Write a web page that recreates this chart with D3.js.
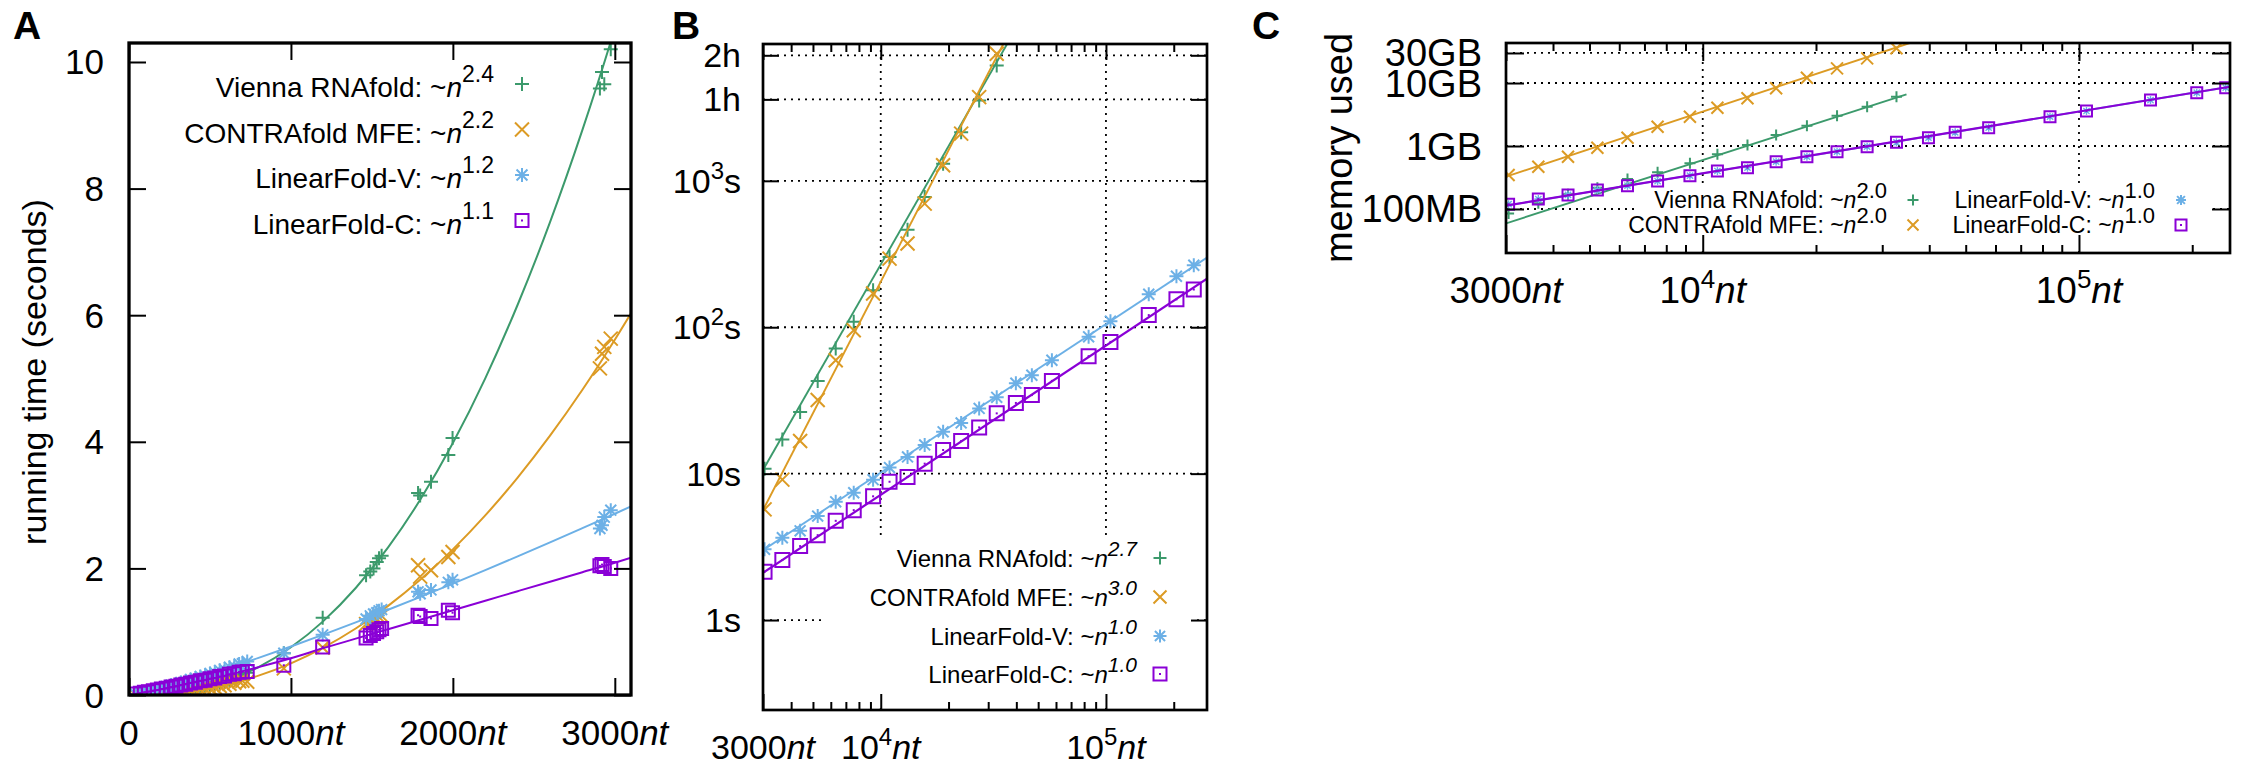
<!DOCTYPE html>
<html>
<head>
<meta charset="utf-8">
<title>LinearFold: running time and memory</title>
<script src="https://d3js.org/d3.v7.min.js"></script>
<style>
  body { margin: 0; background: #fff; }
  text { font-family: "Liberation Sans", Arial, Helvetica, sans-serif; fill: #000; }
</style>
</head>
<body>
<script>
// ---------- data ----------
var seriesNames = ["Vienna RNAfold", "CONTRAfold MFE", "LinearFold-V", "LinearFold-C"];
var seriesColors = ["#3c9a6c", "#dc9b24", "#6cb0e6", "#8a00d6"];
var seriesMarks = ["plus", "cross", "star", "square"];

// A: running time (s) vs sequence length (nt), linear axes
var aLen = [40, 70, 95, 120, 150, 175, 200, 230, 260, 290, 320, 350, 380, 410, 440, 470, 500, 530, 560, 590, 620, 650, 680, 700, 730,
            956, 1196, 1464, 1490, 1510, 1530, 1544, 1560, 1785, 1798, 1865, 1972, 1998, 2908, 2921, 2935, 2975];
var aVienna = [0.0003, 0.0013, 0.003, 0.005, 0.008, 0.012, 0.017, 0.021, 0.031, 0.038, 0.05, 0.063, 0.072, 0.091, 0.103, 0.126, 0.14, 0.168, 0.185, 0.218, 0.236, 0.274, 0.295, 0.326, 0.35,
               0.66, 1.22, 1.89, 1.95, 2.0, 2.1, 2.16, 2.2, 3.19, 3.15, 3.37, 3.79, 4.06, 9.58, 9.84, 9.65, 10.2];
var aContra = [0.0004, 0.0014, 0.003, 0.005, 0.008, 0.011, 0.015, 0.02, 0.027, 0.032, 0.042, 0.049, 0.061, 0.069, 0.084, 0.094, 0.112, 0.122, 0.143, 0.155, 0.179, 0.192, 0.218, 0.226, 0.21,
               0.42, 0.75, 1.12, 1.15, 1.18, 1.2, 1.23, 1.25, 2.05, 1.87, 1.97, 2.18, 2.26, 5.16, 5.39, 5.5, 5.63];
var aLinV = [0.016, 0.032, 0.046, 0.06, 0.08, 0.094, 0.113, 0.13, 0.155, 0.172, 0.199, 0.215, 0.245, 0.26, 0.292, 0.307, 0.34, 0.355, 0.39, 0.403, 0.44, 0.452, 0.49, 0.495, 0.53,
             0.66, 0.95, 1.2, 1.25, 1.28, 1.3, 1.33, 1.35, 1.63, 1.6, 1.66, 1.78, 1.82, 2.63, 2.68, 2.81, 2.92];
var aLinC = [0.016, 0.029, 0.042, 0.052, 0.069, 0.079, 0.094, 0.106, 0.126, 0.137, 0.158, 0.169, 0.191, 0.201, 0.224, 0.234, 0.258, 0.268, 0.292, 0.301, 0.326, 0.334, 0.36, 0.364, 0.37,
             0.47, 0.76, 0.9, 0.94, 0.97, 1.0, 1.03, 1.05, 1.26, 1.24, 1.21, 1.34, 1.3, 2.04, 2.06, 2.03, 2.0];
// fitted curves in A, read at these lengths
var aCurveLen = [0, 200, 400, 600, 800, 1000, 1200, 1400, 1600, 1800, 2000, 2200, 2400, 2600, 2800, 3000, 3100];
var aCurveVienna = [0, 0.016, 0.084, 0.222, 0.441, 0.754, 1.167, 1.69, 2.331, 3.091, 3.98, 5.003, 6.165, 7.47, 8.927, 10.53, 11.4];
var aCurveContra = [0, 0.0145, 0.0666, 0.163, 0.306, 0.5, 0.748, 1.05, 1.408, 1.824, 2.3, 2.837, 3.435, 4.097, 4.822, 5.612, 6.03];
var aCurveLinV = [0, 0.111, 0.255, 0.415, 0.586, 0.766, 0.953, 1.147, 1.347, 1.551, 1.76, 1.973, 2.19, 2.411, 2.636, 2.863, 2.98];
var aCurveLinC = [0, 0.09, 0.2, 0.31, 0.44, 0.58, 0.74, 0.89, 1.04, 1.19, 1.34, 1.49, 1.64, 1.79, 1.94, 2.09, 2.17];
var aExp = ["2.4", "2.2", "1.2", "1.1"];
var aXTicks = [0, 1000, 2000, 3000];
var aYTicks = [0, 2, 4, 6, 8, 10];

// B and C: long sequences (nt), log axes
var longLen = [3048, 3656, 4385, 5248, 6310, 7586, 9247, 10940, 13150, 15670, 18920, 22750, 27350, 32730,
               39810, 46880, 57540, 83750, 104700, 154900, 205600, 245500];
var bVienna = [10.8, 17.1, 26.4, 43, 71.5, 109, 179, 302, 464, 775, 1310, 2150, 3540, 6140];
var bContra = [5.7, 9.1, 16.7, 31.8, 59.5, 95.4, 170, 294, 373, 699, 1276, 2100, 3730, 7380];
var bLinV = [3.04, 3.65, 4.07, 5.13, 6.42, 7.4, 9.1, 11.0, 13.0, 15.7, 19.3, 22.2, 27.9, 33.2, 41.5, 47, 59.5, 86, 110, 168, 223, 265];
var bLinC = [2.14, 2.57, 3.2, 3.8, 4.76, 5.63, 7.0, 8.8, 9.5, 11.7, 14.5, 16.7, 20.7, 25.8, 30.4, 34.4, 43, 63.4, 79.4, 121, 155, 181];
var bFitVienna = [[3000, 10.6], [36400, 8600]];
var bFitContra = [[3000, 5.63], [35000, 8600]];
var bFitLinV = [[3000, 3.0], [281000, 299]];
var bFitLinC = [[3000, 2.1], [281000, 215]];
var bExp = ["2.7", "3.0", "1.0", "1.0"];
var bYTicks = [1, 10, 100, 1000, 3600, 7200];
var bYLabels = [["1s"], ["10s"], ["10", "2", "s"], ["10", "3", "s"], ["1h"], ["2h"]];

// C: memory (MB)
var cVienna = [85, 123, 171, 218, 299, 382, 531, 738, 1038, 1496, 2100, 3025, 4205, 6070];
var cContra = [347, 469, 676, 940, 1355, 2025, 2920, 4055, 5715, 8240, 12140, 17100, 24650, 35550];
var cLinV = [119, 144, 167, 200, 234, 278, 338, 401, 453, 563, 676, 813, 975, 1146, 1355, 1648, 1950, 2920, 3595, 5370, 7020, 8420];
var cLinC = [119, 144, 167, 200, 234, 278, 338, 401, 453, 563, 676, 813, 975, 1146, 1355, 1648, 1950, 2920, 3595, 5370, 7020, 8420];
var cFitVienna = [[3000, 59], [34800, 6600]];
var cFitContra = [[3000, 326], [35500, 43200]];
var cFitLinV = [[3000, 113], [252000, 8730]];
var cFitLinC = [[3000, 113], [252000, 8730]];
var cExp = ["2.0", "2.0", "1.0", "1.0"];
var cYTicks = [100, 1000, 10000, 30000];
var cYLabels = ["100MB", "1GB", "10GB", "30GB"];

var logXTicks = [3000, 10000, 100000];
var logXMinor = [4000, 5000, 6000, 7000, 8000, 9000, 20000, 30000, 40000, 50000, 60000, 70000, 80000, 90000, 200000];
var logXLabels = [["3000", "", "nt"], ["10", "4", "nt"], ["10", "5", "nt"]];

// ---------- drawing ----------
var svg = d3.select("body").append("svg").attr("width", 2242).attr("height", 770).style("display", "block");

function zip(xs, ys) { return ys.map(function (v, i) { return [xs[i], v]; }); }

function markPath(type, x, y, r) {
  var d = r * 0.78;
  var plus = "M" + (x - r) + "," + y + "H" + (x + r) + "M" + x + "," + (y - r) + "V" + (y + r);
  if (type == "plus") return plus;
  if (type == "cross") return "M" + (x - r) + "," + (y - r) + "L" + (x + r) + "," + (y + r) + "M" + (x - r) + "," + (y + r) + "L" + (x + r) + "," + (y - r);
  if (type == "star") return plus + "M" + (x - d) + "," + (y - d) + "L" + (x + d) + "," + (y + d) + "M" + (x - d) + "," + (y + d) + "L" + (x + d) + "," + (y - d);
  return "M" + (x - r) + "," + (y - r) + "H" + (x + r) + "V" + (y + r) + "H" + (x - r) + "Z";
}

function marks(g, pts, x, y, type, r, color, sw) {
  g.append("g").selectAll("path").data(pts).join("path")
    .attr("d", function (d) { return markPath(type, x(d[0]), y(d[1]), r); })
    .attr("fill", "none").attr("stroke", color).attr("stroke-width", sw);
  if (type == "square") {
    g.append("g").selectAll("rect").data(pts).join("rect")
      .attr("x", function (d) { return x(d[0]) - 1; }).attr("y", function (d) { return y(d[1]) - 1; })
      .attr("width", 2).attr("height", 2).attr("fill", color);
  }
}

function legendMark(g, type, cx, cy, r, color, sw) {
  g.append("path").attr("d", markPath(type, cx, cy, r)).attr("fill", "none").attr("stroke", color).attr("stroke-width", sw);
  if (type == "square") g.append("rect").attr("x", cx - 1).attr("y", cy - 1).attr("width", 2).attr("height", 2).attr("fill", color);
}

// parts: [main, superscript, tail]; tail in italics when it is "nt"
function richText(g, x, y, parts, o) {
  var t = g.append("text").attr("x", x).attr("y", y).attr("text-anchor", o.anchor).attr("font-size", o.size);
  t.append("tspan").text(parts[0]);
  var up = 0;
  if (parts[1]) {
    t.append("tspan").text(parts[1]).attr("dy", -o.rise).attr("font-size", o.supSize);
    up = o.rise;
  }
  if (parts[2]) {
    var s = t.append("tspan").text(parts[2]);
    if (up) s.attr("dy", up);
    if (parts[2] == "nt") s.attr("font-style", "italic");
  }
  return t;
}

function legendEntry(g, xEnd, y, name, exp, o) {
  var t = g.append("text").attr("x", xEnd).attr("y", y).attr("text-anchor", "end").attr("font-size", o.size);
  t.append("tspan").text(name + ": ~");
  t.append("tspan").text("n").attr("font-style", "italic");
  var s = t.append("tspan").text(exp).attr("dy", -o.rise).attr("font-size", o.supSize);
  if (o.supItalic) s.attr("font-style", "italic");
}

function frame(g, x, y, o) {
  var l = x.range()[0], r = x.range()[1], b = y.range()[0], t = y.range()[1];
  function ax(axis, tx, ty) {
    g.append("g").attr("transform", "translate(" + tx + "," + ty + ")").call(axis)
      .call(function (s) { s.select(".domain").remove(); s.selectAll("line").attr("stroke", "#000").attr("stroke-width", o.tickW); });
  }
  ax(d3.axisBottom(x).tickValues(o.xTicks).tickSize(-o.tickLen).tickFormat(""), 0, b);
  ax(d3.axisTop(x).tickValues(o.xTicks).tickSize(-o.tickLen).tickFormat(""), 0, t);
  ax(d3.axisLeft(y).tickValues(o.yTicks).tickSize(-o.tickLen).tickFormat(""), l, 0);
  ax(d3.axisRight(y).tickValues(o.yTicks).tickSize(-o.tickLen).tickFormat(""), r, 0);
  if (o.xMinor) {
    ax(d3.axisBottom(x).tickValues(o.xMinor).tickSize(-o.minorLen).tickFormat(""), 0, b);
    ax(d3.axisTop(x).tickValues(o.xMinor).tickSize(-o.minorLen).tickFormat(""), 0, t);
  }
  g.append("rect").attr("x", l).attr("y", t).attr("width", r - l).attr("height", b - t)
    .attr("fill", "none").attr("stroke", "#000").attr("stroke-width", o.frameW);
}

function grid(g, x, y, xs, ys) {
  var l = x.range()[0], r = x.range()[1], b = y.range()[0], t = y.range()[1];
  var gg = g.append("g").attr("stroke", "#000").attr("stroke-width", 1.8).attr("stroke-dasharray", "2,5");
  gg.selectAll(".gx").data(xs).join("line").attr("x1", function (d) { return x(d); }).attr("x2", function (d) { return x(d); }).attr("y1", b).attr("y2", t);
  gg.selectAll(".gy").data(ys).join("line").attr("y1", function (d) { return y(d); }).attr("y2", function (d) { return y(d); }).attr("x1", l).attr("x2", r);
}

function clipFor(id, x, y) {
  svg.append("clipPath").attr("id", id).append("rect")
    .attr("x", x.range()[0]).attr("y", y.range()[1])
    .attr("width", x.range()[1] - x.range()[0]).attr("height", y.range()[0] - y.range()[1]);
  return "url(#" + id + ")";
}

function panelLetter(x, s) {
  svg.append("text").attr("x", x).attr("y", 39).attr("font-size", 39).attr("font-weight", "bold").text(s);
}

// ===== Panel A =====
(function () {
  var x = d3.scaleLinear().domain([0, 3100]).range([129, 631]);
  var y = d3.scaleLinear().domain([0, 10.3]).range([695, 43]);
  var g = svg.append("g");
  var data = g.append("g").attr("clip-path", clipFor("clipA", x, y));
  var curves = [aCurveVienna, aCurveContra, aCurveLinV, aCurveLinC];
  var pts = [aVienna, aContra, aLinV, aLinC];
  var line = d3.line().x(function (d) { return x(d[0]); }).y(function (d) { return y(d[1]); }).curve(d3.curveMonotoneX);
  for (var i = 0; i < 4; i++) {
    data.append("path").attr("d", line(zip(aCurveLen, curves[i]))).attr("fill", "none")
      .attr("stroke", seriesColors[i]).attr("stroke-width", 2);
    marks(data, zip(aLen, pts[i]), x, y, seriesMarks[i], i == 3 ? 6.5 : 7, seriesColors[i], 2);
  }
  frame(g, x, y, { xTicks: aXTicks, yTicks: aYTicks, tickLen: 17, tickW: 2, frameW: 3.3 });

  aYTicks.forEach(function (v) {
    g.append("text").attr("x", 104).attr("y", y(v) + 12.5).attr("text-anchor", "end").attr("font-size", 35).text(v);
  });
  aXTicks.forEach(function (v) {
    richText(g, x(v), 745, v == 0 ? ["0"] : [String(v), "", "nt"], { anchor: "middle", size: 35 });
  });
  g.append("text").attr("transform", "translate(46,372) rotate(-90)").attr("text-anchor", "middle")
    .attr("font-size", 34).text("running time (seconds)");

  var rows = [87, 132.5, 178, 223.5];
  for (var k = 0; k < 4; k++) {
    legendEntry(g, 494, rows[k] + 10, seriesNames[k], aExp[k], { size: 28, supSize: 23, rise: 15 });
    legendMark(g, seriesMarks[k], 522, rows[k] - 3, k == 3 ? 6.5 : 7, seriesColors[k], 2);
  }
  panelLetter(13, "A");
})();

// ===== Panel B =====
(function () {
  var x = d3.scaleLog().domain([3000, 281000]).range([763, 1207]);
  var y = d3.scaleLog().domain([0.243, 8600]).range([710, 44]);
  var g = svg.append("g");
  grid(g, x, y, [10000, 100000], bYTicks);
  // opaque key box
  g.append("rect").attr("x", 826).attr("y", 536).attr("width", 366).attr("height", 172).attr("fill", "#fff");

  var data = g.append("g").attr("clip-path", clipFor("clipB", x, y));
  var fits = [bFitVienna, bFitContra, bFitLinV, bFitLinC];
  var pts = [bVienna, bContra, bLinV, bLinC];
  var line = d3.line().x(function (d) { return x(d[0]); }).y(function (d) { return y(d[1]); });
  for (var i = 0; i < 4; i++) {
    data.append("path").attr("d", line(fits[i])).attr("fill", "none")
      .attr("stroke", seriesColors[i]).attr("stroke-width", i == 3 ? 2.2 : 1.9);
    marks(data, zip(longLen, pts[i]), x, y, seriesMarks[i], i == 3 ? 7 : 7, seriesColors[i], 2);
  }
  frame(g, x, y, { xTicks: logXTicks, yTicks: bYTicks, xMinor: logXMinor, tickLen: 16, minorLen: 8, tickW: 2, frameW: 2.7 });

  bYTicks.forEach(function (v, i) {
    richText(g, 741, y(v) + 12, bYLabels[i], { anchor: "end", size: 34, supSize: 24, rise: 14 });
  });
  logXTicks.forEach(function (v, i) {
    richText(g, x(v), 759, logXLabels[i], { anchor: "middle", size: 34, supSize: 24, rise: 14 });
  });

  var rows = [558, 597, 636, 674];
  for (var k = 0; k < 4; k++) {
    legendEntry(g, 1137, rows[k] + 8.5, seriesNames[k], bExp[k], { size: 24, supSize: 21, rise: 11, supItalic: true });
    legendMark(g, seriesMarks[k], 1160, rows[k], 6.5, seriesColors[k], 2);
  }
  panelLetter(672, "B");
})();

// ===== Panel C =====
(function () {
  var x = d3.scaleLog().domain([3000, 252000]).range([1506, 2230]);
  var y = d3.scaleLog().domain([20, 43200]).range([253, 43]);
  var g = svg.append("g");
  grid(g, x, y, [10000, 100000], cYTicks);
  g.append("rect").attr("x", 1634).attr("y", 184).attr("width", 574).attr("height", 67).attr("fill", "#fff");

  var data = g.append("g").attr("clip-path", clipFor("clipC", x, y));
  var fits = [cFitVienna, cFitContra, cFitLinV, cFitLinC];
  var pts = [cVienna, cContra, cLinV, cLinC];
  var sizes = [5.5, 6, 4, 5.5];
  var line = d3.line().x(function (d) { return x(d[0]); }).y(function (d) { return y(d[1]); });
  for (var i = 0; i < 4; i++) {
    data.append("path").attr("d", line(fits[i])).attr("fill", "none")
      .attr("stroke", seriesColors[i]).attr("stroke-width", i == 3 ? 2.2 : 1.9);
    marks(data, zip(longLen, pts[i]), x, y, seriesMarks[i], sizes[i], seriesColors[i], i == 2 ? 1.4 : 2);
  }
  frame(g, x, y, { xTicks: logXTicks, yTicks: cYTicks, xMinor: logXMinor, tickLen: 18, minorLen: 8, tickW: 2, frameW: 2.7 });

  cYTicks.forEach(function (v, i) {
    g.append("text").attr("x", 1482).attr("y", y(v) + 13.5).attr("text-anchor", "end").attr("font-size", 38).text(cYLabels[i]);
  });
  logXTicks.forEach(function (v, i) {
    richText(g, x(v), 303, logXLabels[i], { anchor: "middle", size: 37, supSize: 26, rise: 15 });
  });
  g.append("text").attr("transform", "translate(1352,148) rotate(-90)").attr("text-anchor", "middle")
    .attr("font-size", 38).text("memory used");

  var cols = [1887, 2155], mx = [1913, 2181], rows = [200, 225];
  for (var k = 0; k < 4; k++) {
    var c = k < 2 ? 0 : 1, rr = k % 2;
    legendEntry(g, cols[c], rows[rr] + 8, seriesNames[k], cExp[k], { size: 23, supSize: 22, rise: 10 });
    legendMark(g, seriesMarks[k], mx[c], rows[rr], k == 2 ? 5 : 5.5, seriesColors[k], 2);
  }
  panelLetter(1252, "C");
})();
</script>
</body>
</html>
